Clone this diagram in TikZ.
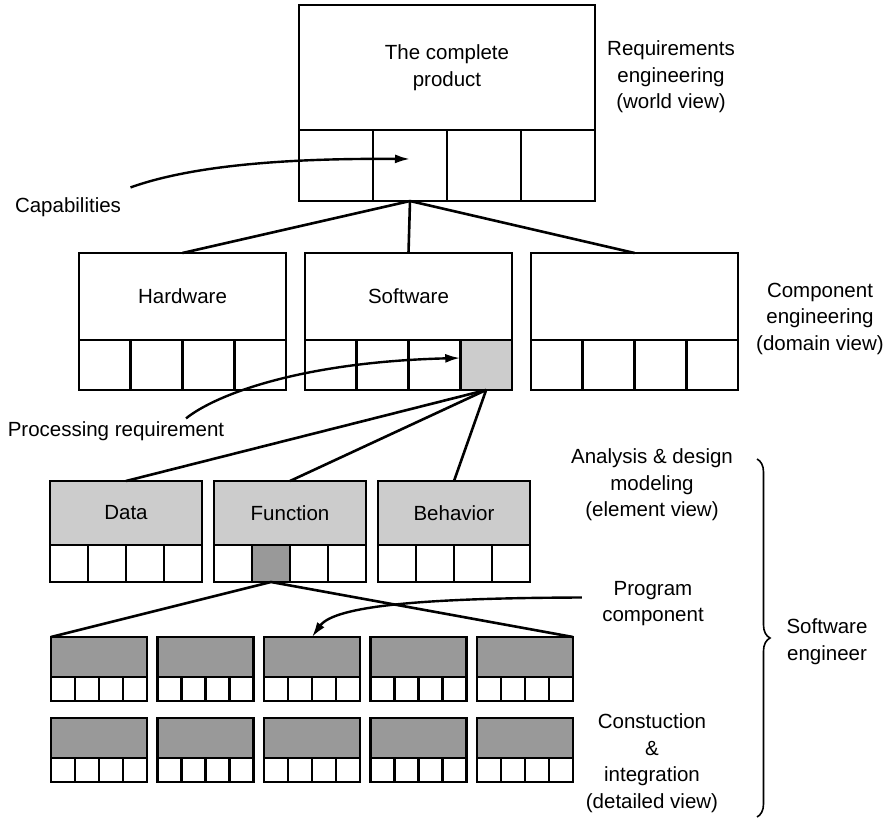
\documentclass[tikz,border=0pt]{standalone}
\usepackage{fontspec}
\setmainfont{Liberation Sans}
\usetikzlibrary{arrows.meta,decorations.pathreplacing}
\definecolor{lightfill}{HTML}{CCCCCC}
\definecolor{darkfill}{HTML}{999999}

\begin{document}
\begin{tikzpicture}[x=1pt, y=-1pt,
		font=\fontsize{20.5}{26.5}\selectfont,
		part/.style={draw, line width=2.8pt, inner sep=0pt, outer sep=0pt},
		note/.style={align=center},
		link/.style={line width=2.6pt},
		pointer/.style={line width=2.4pt, -{Latex[length=15pt, width=9pt]}},
		brace/.style={decorate, decoration={brace, amplitude=13pt}, line width=1.6pt}]

	\useasboundingbox (0,0) rectangle (894,819);

	% whole product
	\node[part, minimum width=296, minimum height=125, align=center] (prod) at (447,67.5) {The complete\\product};
	\foreach \i in {0,...,3}
		\node[part, minimum width=74, minimum height=71] (prod-\i) at (336+74*\i,165.5) {};

	% components
	\foreach \blk/\x/\txt/\lastfill in {hw/182.5/Hardware/white, sw/408.5/Software/lightfill, eng/634.5//white} {
		\node[part, minimum width=207, minimum height=87] (\blk) at (\x,296.5) {\txt};
		\foreach \i/\f in {0/white,1/white,2/white,3/\lastfill}
			\node[part, fill=\f, minimum width=51.75, minimum height=50] (\blk-\i) at (\x-77.625+51.75*\i,365) {};
	}

	% elements
	\foreach \blk/\x/\txt/\midfill in {data/126/Data/white, func/290/Function/darkfill, beh/454/Behavior/white} {
		\node[part, fill=lightfill, minimum width=152, minimum height=64] (\blk) at (\x,513) {\txt};
		\foreach \i/\f in {0/white,1/\midfill,2/white,3/white}
			\node[part, fill=\f, minimum width=38, minimum height=37] (\blk-\i) at (\x-57+38*\i,563.5) {};
	}

	% detailed units
	\foreach \rowname/\y in {prog/637, code/718}
		\foreach \j in {0,...,4} {
			\node[part, fill=darkfill, minimum width=96, minimum height=40] (\rowname\j) at (99+106.5*\j,\y+20) {};
			\foreach \i in {0,...,3}
				\node[part, fill=white, minimum width=24, minimum height=24] (\rowname\j-\i) at (63+106.5*\j+24*\i,\y+52) {};
		}

	\foreach \tgt in {hw,sw,eng}
		\draw[link] (prod-1.south) -- (\tgt.north);
	\foreach \tgt in {data,func,beh}
		\draw[link] (sw-3.south) -- (\tgt.north);
	\draw[link] (prog0.north west) -- (func-1.south) -- (prog4.north east);

	% labels
	\node[note] (cap) at (68,207.5) {Capabilities};
	\node[note] (proc) at (116,431.5) {Processing requirement};
	\node[note] (req) at (671,77) {Requirements\\engineering\\(world view)};
	\node[note] (comp) at (820,318.5) {Component\\engineering\\(domain view)};
	\node[note] (anal) at (652,485) {Analysis \& design\\modeling\\(element view)};
	\node[note] (pc) at (653,603.5) {Program\\component};
	\node[note] (cons) at (652,763) {Constuction\\\&\\integration\\(detailed view)};
	\node[note] (swe) at (827,641.5) {Software\\engineer};

	\draw[pointer] ([shift={(6,-7)}]cap.north east) .. controls (185,168) and (270,158) .. ([yshift=6.5pt]prod-1.center);
	\draw[pointer] ([xshift=70pt]proc.north) .. controls (215,395) and (300,362) .. ([yshift=7pt]sw-3.west);
	\draw[pointer] ([xshift=-17pt,yshift=6pt]pc.west) .. controls (430,598) and (335,605) .. (prog2.north);

	\coordinate (brtop) at (757,459);
	\coordinate (brbot) at (757,817);
	\draw[brace] (brtop) -- (brbot);

\end{tikzpicture}
\end{document}
